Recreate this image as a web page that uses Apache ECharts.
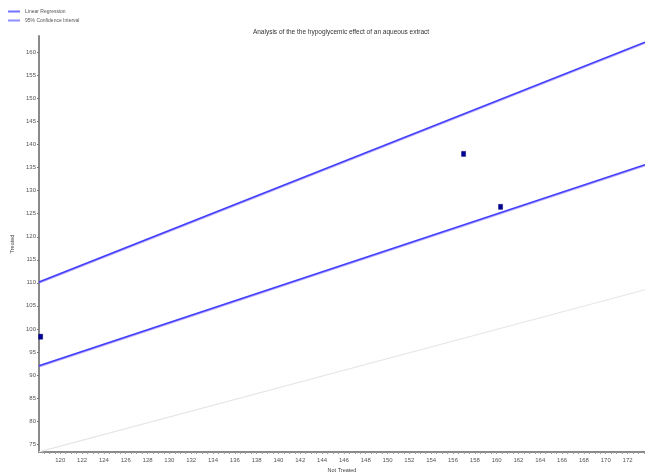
<!DOCTYPE html>
<html>
<head>
<meta charset="utf-8">
<script src="https://cdn.jsdelivr.net/npm/echarts@6/dist/echarts.min.js"></script>
<style>html,body{margin:0;padding:0;background:#fff}#c{width:645px;height:472px}</style>
</head>
<body>
<div id="c"></div>
<script>
// Data
var xTicks = [120,122,124,126,128,130,132,134,136,138,140,142,144,146,148,150,152,154,156,158,160,162,164,166,168,170,172];
var yTicks = [75,80,85,90,95,100,105,110,115,120,125,130,135,140,145,150,155,160];
var xRange = [118.05, 173.6];
var yRange = [73.26, 163.6];
var observedX = [118.2, 156.97, 160.36];
var observedY = [98.3, 138.0, 126.5];
var lineX = [118.05, 173.6];
var regressionY = [92.0, 135.65];
var ciUpperY = [110.2, 162.25];
var ciLowerY = [73.3, 108.5];

function pairs(xs, ys){ return xs.map(function(x,i){ return [x, ys[i]]; }); }
var minorTicks = [];
for (var v = Math.ceil(xRange[0]*2)/2; v <= xRange[1]; v += 0.5) minorTicks.push(v);

var font = 'Liberation Sans Narrow, Liberation Sans, Arial';
var chart = echarts.init(document.getElementById('c'), null, {renderer:'canvas'});
chart.setOption({
  animation:false,
  backgroundColor:'#fff',
  title:{text:'Analysis of the the hypoglycemic effect of an aqueous extract', left:336, top:24, textAlign:'center',
    textStyle:{fontSize:6.5, fontWeight:'normal', color:'#333', fontFamily:font}},
  legend:{orient:'vertical', left:3, top:4, itemGap:4, itemWidth:12, itemHeight:2, icon:'rect',
    textStyle:{fontSize:5, color:'#555', fontFamily:font},
    data:[{name:'Linear Regression', itemStyle:{color:'#7373ff'}},{name:'95% Confidence Interval', itemStyle:{color:'#8e8eff'}}]},
  grid:{left:39, right:0, top:36, bottom:20, containLabel:false, outerBoundsMode:'none'},
  xAxis:[{
    type:'value', min:xRange[0], max:xRange[1], name:'Not Treated', nameLocation:'middle', nameGap:11,
    nameTextStyle:{fontSize:5.5, color:'#444', fontFamily:font},
    axisLine:{show:true, onZero:false, lineStyle:{color:'#8a8a8a', width:2}},
    axisTick:{show:true, length:2, lineStyle:{color:'#777'}, customValues:xTicks},
    axisLabel:{fontSize:6, color:'#555', fontFamily:font, margin:5, customValues:xTicks},
    splitLine:{show:false}
  },{
    type:'value', min:xRange[0], max:xRange[1], position:'bottom',
    axisLine:{show:false}, axisLabel:{show:false}, splitLine:{show:false},
    axisTick:{show:true, length:2, lineStyle:{color:'#999'}, customValues:minorTicks}
  }],
  yAxis:{
    type:'value', min:yRange[0], max:yRange[1], name:'Treated', nameLocation:'middle', nameGap:9, nameRotate:90,
    nameTextStyle:{fontSize:5.5, color:'#444', fontFamily:font},
    axisLine:{show:true, onZero:false, lineStyle:{color:'#8a8a8a', width:2}},
    axisTick:{show:true, length:2, lineStyle:{color:'#777'}, customValues:yTicks},
    axisLabel:{fontSize:6, color:'#555', fontFamily:font, margin:3, customValues:yTicks},
    splitLine:{show:false}
  },
  series:[
    {name:'95% Confidence Interval lower', type:'line', data:pairs(lineX, ciLowerY), symbol:'none',
      lineStyle:{color:'#e6e6e6', width:1.2}, silent:true},
    {name:'95% Confidence Interval', type:'line', data:pairs(lineX, ciUpperY), symbol:'none',
      lineStyle:{color:'#3f3ffb', width:1.6, shadowColor:'rgba(140,110,255,0.6)', shadowOffsetY:1, shadowBlur:0}, itemStyle:{color:'#8e8eff'}},
    {name:'Linear Regression', type:'line', data:pairs(lineX, regressionY), symbol:'none',
      lineStyle:{color:'#3f3ffb', width:1.6, shadowColor:'rgba(140,110,255,0.6)', shadowOffsetY:1, shadowBlur:0}, itemStyle:{color:'#7373ff'}},
    {name:'Observed', type:'scatter', data:pairs(observedX, observedY), symbol:'rect', symbolSize:[4,5],
      itemStyle:{color:'#00009a', opacity:1, borderColor:'#000060', borderWidth:0.5}}
  ]
});
</script>
</body>
</html>
